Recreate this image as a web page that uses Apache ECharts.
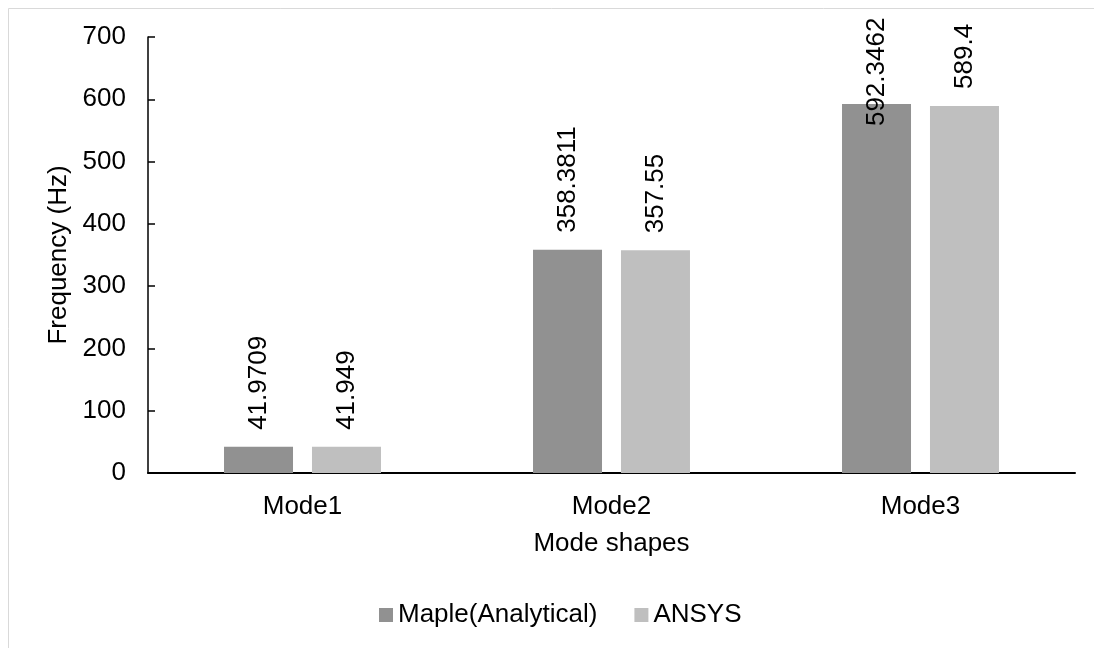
<!DOCTYPE html>
<html>
<head>
<meta charset="utf-8">
<script src="https://cdn.jsdelivr.net/npm/echarts@6/dist/echarts.min.js"></script>
<style>
html,body{margin:0;padding:0;background:#fff;}
#chart{width:1094px;height:648px;}
</style>
</head>
<body>
<div id="chart"></div>
<script>
const categories = ['Mode1', 'Mode2', 'Mode3'];
const seriesNames = ['Maple(Analytical)', 'ANSYS'];
const mapleValues = [41.9709, 358.3811, 592.3462];
const ansysValues = [41.949, 357.55, 589.4];
const yTicks = { min: 0, max: 700, interval: 100 };
const xAxisTitle = 'Mode shapes';
const yAxisTitle = 'Frequency (Hz)';

const FONT = 'Liberation Sans, Arial, sans-serif';
const FS = 26;

const chart = echarts.init(document.getElementById('chart'), null, { renderer: 'canvas' });

function labelCfg() {
  return {
    show: true,
    position: 'top',
    rotate: 90,
    align: 'left',
    verticalAlign: 'middle',
    distance: 17,
    fontFamily: FONT,
    fontSize: FS,
    color: '#000',
    formatter: p => String(p.value)
  };
}

// Excel nudged the Mode3 Maple label down to keep it inside the chart
const mapleData = mapleValues.map((v, i) => i === 2
  ? { value: v, label: { offset: [-39, 0] } }
  : v);

chart.setOption({
  animation: false,
  backgroundColor: '#fff',
  textStyle: { fontFamily: FONT },
  graphic: [{
    type: 'rect',
    shape: { x: 8.5, y: 8.5, width: 1200, height: 800 },
    style: { fill: 'none', stroke: '#d9d9d9', lineWidth: 1 },
    silent: true,
    z: -10
  }],
  grid: { left: 148, right: 19, top: 37, bottom: 175, containLabel: false },
  legend: {
    left: 379,
    top: 602,
    padding: 0,
    itemWidth: 14,
    itemHeight: 14,
    itemGap: 37,
    icon: 'rect',
    textStyle: { fontFamily: FONT, fontSize: FS, color: '#000' },
    data: seriesNames
  },
  xAxis: {
    type: 'category',
    data: categories,
    name: xAxisTitle,
    nameLocation: 'middle',
    nameGap: 58,
    nameTextStyle: { fontFamily: FONT, fontSize: FS, color: '#000' },
    axisLine: { show: true, lineStyle: { color: '#000', width: 2 } },
    axisTick: { show: false },
    axisLabel: { fontFamily: FONT, fontSize: FS, color: '#000', margin: 21 },
    splitLine: { show: false }
  },
  yAxis: {
    type: 'value',
    min: yTicks.min,
    max: yTicks.max,
    interval: yTicks.interval,
    name: yAxisTitle,
    nameLocation: 'middle',
    nameGap: 74,
    nameTextStyle: { fontFamily: FONT, fontSize: FS, color: '#000' },
    axisLine: { show: true, lineStyle: { color: '#000', width: 1.5 } },
    axisTick: { show: true, inside: true, length: 7, lineStyle: { color: '#000', width: 1.5 } },
    axisLabel: { fontFamily: FONT, fontSize: FS, color: '#000', margin: 22 },
    splitLine: { show: false }
  },
  series: [
    {
      name: seriesNames[0],
      type: 'bar',
      data: mapleData,
      barWidth: 69,
      barGap: '27.5%',
      itemStyle: { color: '#919191' },
      label: labelCfg()
    },
    {
      name: seriesNames[1],
      type: 'bar',
      data: ansysValues,
      barWidth: 69,
      barGap: '27.5%',
      itemStyle: { color: '#bfbfbf' },
      label: labelCfg()
    }
  ]
});
</script>
</body>
</html>
